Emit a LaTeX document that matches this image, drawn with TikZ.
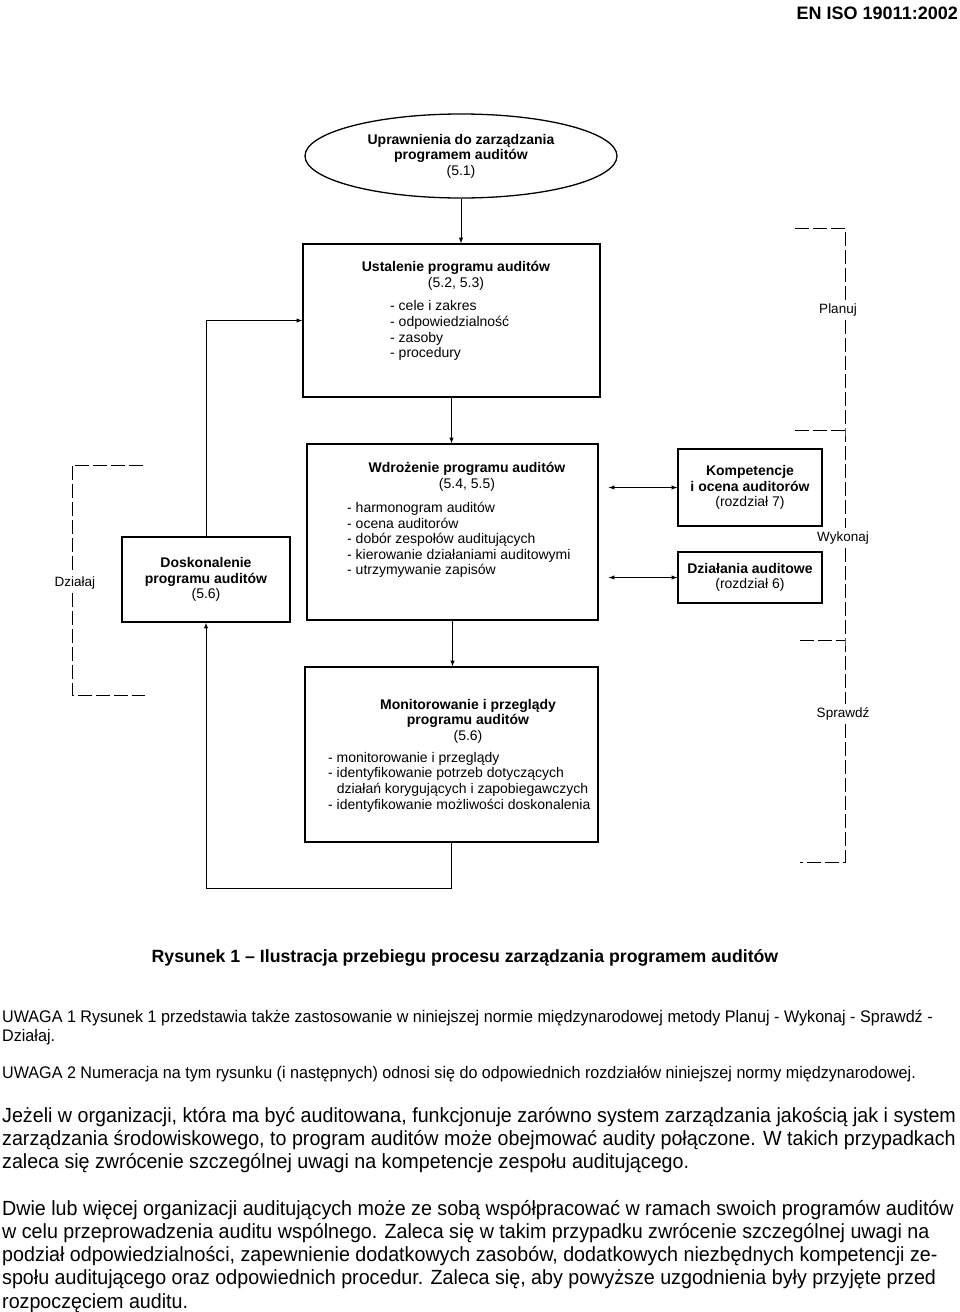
\documentclass[tikz,border=0pt]{standalone}
\usepackage{fontspec}
\setmainfont{Liberation Sans}
\newfontfamily\narrowfont[FakeStretch=0.96]{Liberation Sans}
\usepackage{tikz}
\usetikzlibrary{arrows,shapes}

\begin{document}
\begin{tikzpicture}[x=1pt,y=-1pt,
	blok/.style={draw,line width=1.3pt,inner sep=0pt,align=center,font=\fontsize{14}{15.6}\selectfont},
	tytul/.style={inner sep=0pt,align=center,font=\fontsize{14}{15.6}\selectfont},
	lista/.style={inner sep=0pt,align=left,anchor=north west,font=\fontsize{14}{15.6}\selectfont},
	strz/.style={-latex,line width=1pt},
	ramka/.style={line width=1pt,dash pattern=on 14pt off 4pt},
	etyk/.style={font=\fontsize{13.5}{16}\selectfont},
	uwaga/.style={inner sep=0pt,align=left,anchor=north west,font=\narrowfont\fontsize{16.8}{19}\selectfont},
	akapit/.style={inner sep=0pt,align=left,anchor=north west,font=\narrowfont\fontsize{20.5}{23.2}\selectfont}]
				
				\useasboundingbox (0,0) rectangle (960,1312);
				
				\node[font=\bfseries\fontsize{18}{20}\selectfont,anchor=east,inner sep=0pt] (nagl) at (958,13) {EN ISO 19011:2002};
				
				% schemat
				\node[blok,ellipse,minimum width=312pt,minimum height=84pt] (upr) at (461,156) {\textbf{Uprawnienia do zarządzania}\\\textbf{programem auditów}\\(5.1)};
				
				\node[blok,minimum width=297pt,minimum height=153pt] (ust) at (451.5,320.5) {};
				\node[tytul] (ustT) at (456,276) {\textbf{Ustalenie programu auditów}\\(5.2, 5.3)};
				\node[lista] (ustL) at (390,300.5) {- cele i zakres\\- odpowiedzialność\\- zasoby\\- procedury};
				
				\node[blok,minimum width=291pt,minimum height=176pt] (wdr) at (452.5,532) {};
				\node[tytul] (wdrT) at (467,477) {\textbf{Wdrożenie programu auditów}\\(5.4, 5.5)};
				\node[lista] (wdrL) at (347,502) {- harmonogram auditów\\- ocena auditorów\\- dobór zespołów auditujących\\- kierowanie działaniami auditowymi\\- utrzymywanie zapisów};
				
				\node[blok,minimum width=168pt,minimum height=85pt] (dos) at (206,579.5) {\textbf{Doskonalenie}\\\textbf{programu auditów}\\(5.6)};
				\node[blok,minimum width=144pt,minimum height=77pt] (komp) at (750,487.5) {\textbf{Kompetencje}\\\textbf{i ocena auditorów}\\(rozdział 7)};
				\node[blok,minimum width=144pt,minimum height=51pt] (dzial) at (750,577.5) {\textbf{Działania auditowe}\\(rozdział 6)};
				
				\node[blok,minimum width=293pt,minimum height=175pt] (mon) at (451.5,754.5) {};
				\node[tytul] (monT) at (468,721) {\textbf{Monitorowanie i przeglądy}\\\textbf{programu auditów}\\(5.6)};
				\node[lista] (monL) at (328,752) {- monitorowanie i przeglądy\\- identyfikowanie potrzeb dotyczących\\\phantom{- }działań korygujących i zapobiegawczych\\- identyfikowanie możliwości doskonalenia};
				
				% strzalki
				\draw[strz] (upr.south) -- (upr.south |- ust.north);
				\draw[strz] (ust.south) -- (ust.south |- wdr.north);
				\draw[strz] (wdr.south) -- (wdr.south |- mon.north);
				\draw[strz] (mon.south) -- ++(0,46) -| (dos.south);
				\draw[strz] (dos.north) |- (ust.west);
				\draw[latex-latex,line width=1pt] ([xshift=10pt]wdr.east |- komp.west) -- (komp.west);
				\draw[latex-latex,line width=1pt] ([xshift=10pt]wdr.east |- dzial.west) -- (dzial.west);
				
				% Planuj - Wykonaj - Sprawdz - Dzialaj
				\node[etyk] (plan) at (838,310) {Planuj};
				\node[etyk] (wyk) at (843,538) {Wykonaj};
				\node[etyk] (spr) at (843,714) {Sprawdź};
				\node[etyk] (dzl) at (75,583) {Działaj};
				\coordinate (p1) at (845,228);
				\coordinate (p2) at (845,430);
				\coordinate (p3) at (845,640);
				\coordinate (p4) at (845,862);
				\draw[ramka] (795,228) -- (p1) -- (p1 |- plan.north);
				\draw[ramka] (p1 |- plan.south) -- (p2) -- (p2 |- wyk.north);
				\draw[ramka] (795,430) -- (p2);
				\draw[ramka] (p2 |- wyk.south) -- (p3) -- (p3 |- spr.north);
				\draw[ramka] (800,640) -- (p3);
				\draw[ramka] (p3 |- spr.south) -- (p4) -- (800,862);
				\coordinate (l1) at (72,465);
				\coordinate (l2) at (72,695);
				\draw[ramka] (143,465) -- (l1) -- (l1 |- dzl.north);
				\draw[ramka] (l2 |- dzl.south) -- (l2) -- (145,695);
				
				\node[font=\bfseries\fontsize{17.7}{20}\selectfont] (podpis) at (465,958) {Rysunek 1 – Ilustracja przebiegu procesu zarządzania programem auditów};
				
				% tekst pod rysunkiem
				\node[uwaga] (uw1) at (2,1010) {UWAGA 1 Rysunek 1 przedstawia także zastosowanie w niniejszej normie międzynarodowej metody Planuj - Wykonaj - Sprawdź -\\Działaj.};
				\node[uwaga] (uw2) at (2,1066) {UWAGA 2 Numeracja na tym rysunku (i następnych) odnosi się do odpowiednich rozdziałów niniejszej normy międzynarodowej.};
				\node[akapit] (ak1) at (2,1107) {Jeżeli w organizacji, która ma być auditowana, funkcjonuje zarówno system zarządzania jakością jak i system\\zarządzania środowiskowego, to program auditów może obejmować audity połączone. W takich przypadkach\\zaleca się zwrócenie szczególnej uwagi na kompetencje zespołu auditującego.};
				\node[akapit] (ak2) at (2,1200) {Dwie lub więcej organizacji auditujących może ze sobą współpracować w ramach swoich programów auditów\\w celu przeprowadzenia auditu wspólnego. Zaleca się w takim przypadku zwrócenie szczególnej uwagi na\\podział odpowiedzialności, zapewnienie dodatkowych zasobów, dodatkowych niezbędnych kompetencji ze-\\społu auditującego oraz odpowiednich procedur. Zaleca się, aby powyższe uzgodnienia były przyjęte przed\\rozpoczęciem auditu.};
			\end{tikzpicture}
\end{document}
